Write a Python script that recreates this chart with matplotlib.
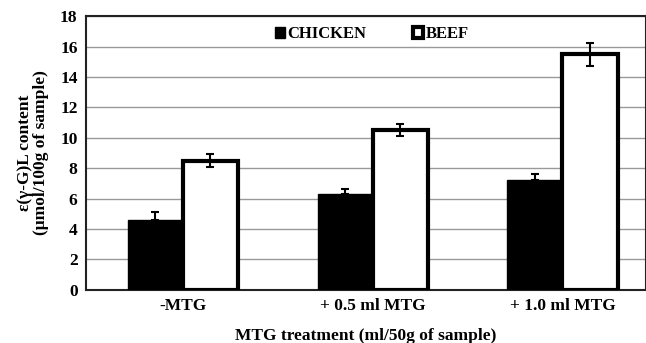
import matplotlib
matplotlib.use('Agg')
import matplotlib.pyplot as plt
import numpy as np

treatments = ['-MTG', '+ 0.5 ml MTG', '+ 1.0 ml MTG']
chicken = [4.6, 6.3, 7.2]
chicken_err = [0.55, 0.3, 0.4]
beef = [8.5, 10.5, 15.5]
beef_err = [0.4, 0.4, 0.75]

plt.rcParams['font.family'] = ['Liberation Serif', 'DejaVu Serif']
plt.rcParams['font.weight'] = 'bold'

fig = plt.figure(figsize=(6.46, 3.43), dpi=100)
ax = fig.add_axes([0.133, 0.155, 0.867, 0.798])

x = np.arange(len(treatments))
w = 0.29
ax.bar(x - w / 2, chicken, w, color='black', edgecolor='black', linewidth=1,
       label='CHICKEN', zorder=3)
ax.bar(x + w / 2, beef, w, color='white', edgecolor='black', linewidth=3,
       label='BEEF', zorder=3)
ax.errorbar(x - w / 2, chicken, yerr=[[0] * 3, chicken_err], fmt='none',
            ecolor='black', elinewidth=1.5, capsize=3, capthick=1.5, zorder=4)
ax.errorbar(x + w / 2, beef, yerr=beef_err, fmt='none',
            ecolor='black', elinewidth=1.5, capsize=3, capthick=1.5, zorder=4)

ax.set_xlim(-0.51, 2.44)
ax.set_ylim(0, 18)
ax.set_yticks(range(0, 19, 2))
ax.set_xticks(x)
ax.set_xticklabels(treatments, fontsize=12.5, fontweight='bold')
ax.tick_params(axis='y', labelsize=12.5, length=0, pad=6)
ax.tick_params(axis='x', length=0, pad=6)
ax.grid(axis='y', color='#999999', linewidth=1, zorder=0)
for s in ax.spines.values():
    s.set_linewidth(1.5)
    s.set_color('#222222')

ax.set_xlabel('MTG treatment (ml/50g of sample)', fontsize=12.5,
              fontweight='bold', labelpad=10)
ax.set_ylabel('\u03b5(\u03b3-G)L content\n(\u03bcmol/100g of sample)', fontsize=12.5,
              fontweight='bold', labelpad=8, linespacing=1.0)

leg = ax.legend(loc='upper center', bbox_to_anchor=(0.51, 1.0), ncol=2,
                frameon=False, fontsize=12, handlelength=0.6, handleheight=0.6,
                columnspacing=2.8, handletextpad=0.15, borderaxespad=0.2)

plt.savefig('out.png', dpi=100)
